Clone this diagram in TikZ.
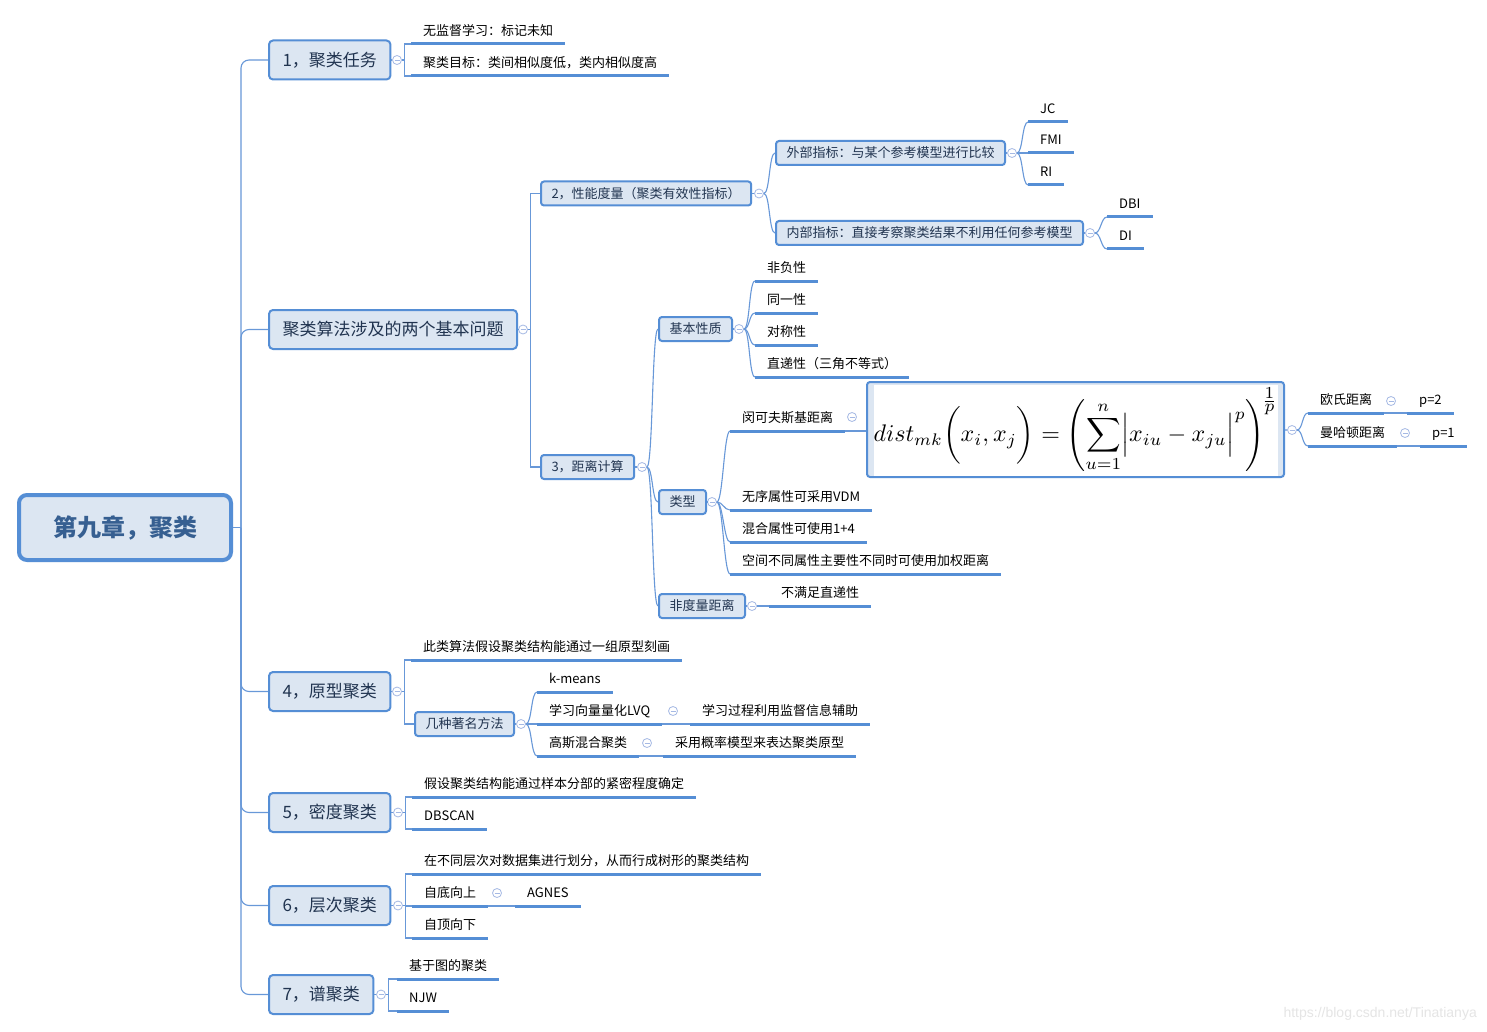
\documentclass[tikz,border=0pt]{standalone}
\usepackage[no-math]{fontspec}
\usepackage{graphicx}
\setmainfont{Noto Sans CJK SC}
\newfontfamily\wmfont{Liberation Sans}
\definecolor{bl}{RGB}{85,142,213}
\definecolor{lk}{RGB}{104,152,216}
\definecolor{bg}{RGB}{220,230,242}
\definecolor{tx}{RGB}{33,52,80}
\definecolor{rt}{RGB}{54,95,145}
\definecolor{mc}{RGB}{165,185,228}
\tikzset{
  rootbox/.style={draw=bl, fill=bg, line width=4pt, rounded corners=8pt, minimum width=212pt, minimum height=65pt, text=rt, font=\fontsize{24}{28}\selectfont\bfseries, text height=20pt, text depth=2pt},
  topic/.style={draw=bl, fill=bg, line width=2pt, rounded corners=4pt, anchor=west, minimum height=39pt, inner xsep=13.5pt, text=tx, font=\fontsize{17}{20}\selectfont, text height=14pt, text depth=1.5pt},
  subtopic/.style={topic, minimum height=24pt, inner xsep=10.5pt, rounded corners=3pt, font=\fontsize{13}{15}\selectfont, text height=10.8pt, text depth=1pt},
  leaf/.style={anchor=south west, inner xsep=12pt, inner ysep=5pt, text height=10pt, text depth=3pt, font=\fontsize{13}{15}\selectfont},
  formbox/.style={draw=bl, fill=bg, line width=2pt, rounded corners=3pt, minimum width=417pt, minimum height=95pt, inner sep=0pt},
  mk/.style={circle, draw=mc, fill=white, line width=0.8pt, minimum size=9pt, inner sep=0pt, path picture={\draw[mc, line width=0.8pt] ([xshift=-2.5pt]path picture bounding box.center) -- ([xshift=2.5pt]path picture bounding box.center);}},
  ln/.style={draw=lk, line width=1.1pt},
  ul/.style={draw=bl, line width=3pt},
  elb/.style={to path={-- ++(3pt,0) |- (\tikztotarget)}},
  crv/.style={to path={.. controls ([xshift=6pt]\tikztostart) and ([xshift=-6pt]\tikztotarget) .. (\tikztotarget)}}
}
\begin{document}
\begin{tikzpicture}[x=1pt,y=-1pt]
\useasboundingbox (0,0) rectangle (1487,1032);
\fill[white] (0,0) rectangle (1487,1032);
\node[rootbox] (r) at (125,527.5) {第九章，聚类};
\coordinate (tr) at (241,527.5);
\node[topic] (b1) at (268,60) {1，聚类任务};
\node[topic] (bq) at (268,329.5) {聚类算法涉及的两个基本问题};
\node[topic] (b4) at (268,691.5) {4，原型聚类};
\node[topic] (b5) at (268,812.5) {5，密度聚类};
\node[topic] (b6) at (268,905.5) {6，层次聚类};
\node[topic] (b7) at (268,994.5) {7，谱聚类};
\node[subtopic] (c2) at (540,193.5) {2，性能度量（聚类有效性指标）};
\node[subtopic] (c3) at (540,467) {3，距离计算};
\node[subtopic] (e1) at (775,153) {外部指标：与某个参考模型进行比较};
\node[subtopic] (e2) at (775,233) {内部指标：直接考察聚类结果不利用任何参考模型};
\node[subtopic] (k1) at (658,329) {基本性质};
\node[subtopic] (k2) at (658,502) {类型};
\node[subtopic] (k3) at (658,606) {非度量距离};
\node[subtopic] (p1) at (414,724) {几种著名方法};
\node[formbox] (f) at (1075.5,429.5) {};
\node[fill=white, minimum width=401pt, minimum height=91pt, inner sep=0pt] (fi) at (1076,430) {\scalebox{2.4}{$\displaystyle dist_{mk}\biggl(x_i,x_j\biggr)=\left(\sum_{u=1}^{n}\Bigl|x_{iu}-x_{ju}\Bigr|^{p}\right)^{\!\frac{\scriptstyle 1}{\scriptstyle p}}$}};
\node[leaf] (a1) at (411,44) {无监督学习：标记未知};
\node[leaf] (a2) at (411,76) {聚类目标：类间相似度低，类内相似度高};
\node[leaf] (j1) at (1028,122) {JC};
\node[leaf] (j2) at (1028,153) {FMI};
\node[leaf] (j3) at (1028,185) {RI};
\node[leaf] (d1) at (1107,217) {DBI};
\node[leaf] (d2) at (1107,249) {DI};
\node[leaf] (s1) at (755,281) {非负性};
\node[leaf] (s2) at (755,313) {同一性};
\node[leaf] (s3) at (755,345) {对称性};
\node[leaf] (s4) at (755,377) {直递性（三角不等式）};
\node[leaf] (t1) at (730,431) {闵可夫斯基距离};
\node[leaf] (t2) at (730,510) {无序属性可采用VDM};
\node[leaf] (t3) at (730,542) {混合属性可使用1+4};
\node[leaf] (t4) at (730,574) {空间不同属性主要性不同时可使用加权距离};
\node[leaf] (n1) at (769,606) {不满足直递性};
\node[leaf] (o1) at (1308,413) {欧氏距离};
\node[leaf] (o2) at (1308,446) {曼哈顿距离};
\node[leaf] (q1) at (1407,413) {p=2};
\node[leaf] (q2) at (1420,446) {p=1};
\node[leaf] (g1) at (411,660) {此类算法假设聚类结构能通过一组原型刻画};
\node[leaf] (h1) at (537,692) {k-means};
\node[leaf] (h2) at (537,724) {学习向量量化LVQ};
\node[leaf] (h3) at (537,756) {高斯混合聚类};
\node[leaf] (h4) at (690,724) {学习过程利用监督信息辅助};
\node[leaf] (h5) at (663,756) {采用概率模型来表达聚类原型};
\node[leaf] (w1) at (412,797) {假设聚类结构能通过样本分部的紧密程度确定};
\node[leaf] (w2) at (412,829) {DBSCAN};
\node[leaf] (y1) at (412,874) {在不同层次对数据集进行划分，从而行成树形的聚类结构};
\node[leaf] (y2) at (412,906) {自底向上};
\node[leaf] (y3) at (412,938) {自顶向下};
\node[leaf] (y4) at (515,906) {AGNES};
\node[leaf] (z1) at (397,979) {基于图的聚类};
\node[leaf] (z2) at (397,1011) {NJW};
\node[anchor=east, text=black!10, inner sep=0pt, font=\wmfont\fontsize{14}{16}\selectfont] (wm) at (1477,1014) {https://blog.csdn.net/Tinatianya};

\draw[ln] (r) -- (tr);
\draw[ln, rounded corners=8pt] (tr) |- (b1.west);
\draw[ln, rounded corners=8pt] (tr) |- (bq.west);
\draw[ln, rounded corners=8pt] (tr) |- (b4.west);
\draw[ln, rounded corners=8pt] (tr) |- (b5.west);
\draw[ln, rounded corners=8pt] (tr) |- (b6.west);
\draw[ln, rounded corners=8pt] (tr) |- (b7.west);

\node[mk] (m1) at (397,60) {};
\node[mk] (mq) at (523,329.5) {};
\node[mk] (m4) at (397,691.5) {};
\node[mk] (m5) at (398,812.5) {};
\node[mk] (m6) at (398,905.5) {};
\node[mk] (m7) at (381,994.5) {};
\node[mk] (mc2) at (759,193.5) {};
\node[mk] (mc3) at (642,467) {};
\node[mk] (me1) at (1012,153) {};
\node[mk] (me2) at (1090,233) {};
\node[mk] (mk1) at (739,329) {};
\node[mk] (mk2) at (712,502) {};
\node[mk] (mk3) at (752,606) {};
\node[mk] (mp1) at (521,724) {};
\node[mk] (mf) at (1292,430) {};
\node[mk] (ml1) at (852,417) {};
\node[mk] (mo1) at (1391,401) {};
\node[mk] (mo2) at (1405,433) {};
\node[mk] (mh2) at (673,711) {};
\node[mk] (mh3) at (647,743) {};
\node[mk] (my2) at (497,893) {};

\draw[ln] (b1) -- (m1);
\draw[ln] (bq) -- (mq);
\draw[ln] (b4) -- (m4);
\draw[ln] (b5) -- (m5);
\draw[ln] (b6) -- (m6);
\draw[ln] (b7) -- (m7);
\draw[ln] (c2) -- (mc2);
\draw[ln] (c3) -- (mc3);
\draw[ln] (e1) -- (me1);
\draw[ln] (e2) -- (me2);
\draw[ln] (k1) -- (mk1);
\draw[ln] (k2) -- (mk2);
\draw[ln] (k3) -- (mk3);
\draw[ln] (p1) -- (mp1);
\draw[ln] (f) -- (mf);

\draw[ln] (m1.east) edge[elb] (a1.south west) edge[elb] (a2.south west);
\draw[ln] (mq.east) edge[elb] (c2.west) edge[elb] (c3.west);
\draw[ln] (m4.east) edge[elb] (g1.south west) edge[elb] (p1.west);
\draw[ln] (m5.east) edge[elb] (w1.south west) edge[elb] (w2.south west);
\draw[ln] (m6.east) edge[elb] (y1.south west) edge[elb] (y2.south west) edge[elb] (y3.south west);
\draw[ln] (m7.east) edge[elb] (z1.south west) edge[elb] (z2.south west);
\draw[ln] (mc2.east) edge[crv] (e1.west) edge[crv] (e2.west);
\draw[ln] (me1.east) edge[crv] (j1.south west) edge[crv] (j2.south west) edge[crv] (j3.south west);
\draw[ln] (me2.east) edge[crv] (d1.south west) edge[crv] (d2.south west);
\draw[ln] (mc3.east) edge[crv] (k1.west) edge[crv] (k2.west) edge[crv] (k3.west);
\draw[ln] (mk1.east) edge[crv] (s1.south west) edge[crv] (s2.south west) edge[crv] (s3.south west) edge[crv] (s4.south west);
\draw[ln] (mk2.east) edge[crv] (t1.south west) edge[crv] (t2.south west) edge[crv] (t3.south west) edge[crv] (t4.south west);
\draw[ln] (mp1.east) edge[crv] (h1.south west) edge[crv] (h2.south west) edge[crv] (h3.south west);
\draw[ln] (mf.east) edge[crv] (o1.south west) edge[crv] (o2.south west);
\draw[ln] (mk3.east) -- (n1.south west);
\draw[ln] (t1.south east) -- (t1.south east -| f.west);
\draw[ln] (o1.south east) -- (q1.south west);
\draw[ln] (o2.south east) -- (q2.south west);
\draw[ln] (h2.south east) -- (h4.south west);
\draw[ln] (h3.south east) -- (h5.south west);
\draw[ln] (y2.south east) -- (y4.south west);

\foreach \n in {a1,a2,j1,j2,j3,d1,d2,s1,s2,s3,s4,t1,t2,t3,t4,n1,o1,o2,q1,q2,g1,h1,h2,h3,h4,h5,w1,w2,y1,y2,y3,y4,z1,z2}
  \draw[ul] (\n.south west) -- (\n.south east);
\end{tikzpicture}
\end{document}
